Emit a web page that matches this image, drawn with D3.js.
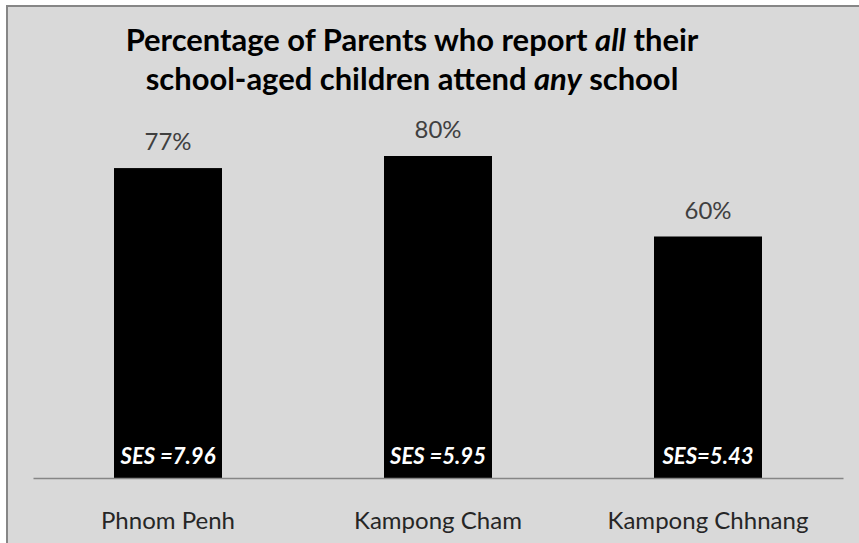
<!DOCTYPE html>
<html><head><meta charset="utf-8">
<script src="https://cdn.jsdelivr.net/npm/d3@7"></script>
<style>html,body{margin:0;padding:0;background:#fff;overflow:hidden}</style>
</head><body>
<svg id="c" width="859" height="543"></svg>
<script>
const categories = ["Phnom Penh", "Kampong Cham", "Kampong Chhnang"];
const values = [77, 80, 60];
const valueLabels = ["77%", "80%", "60%"];
const sesLabels = ["SES =7.96", "SES =5.95", "SES=5.43"];
const titleLines = [
  [["Percentage of Parents who report ", "normal"], ["all", "italic"], [" their", "normal"]],
  [["school-aged children attend ", "normal"], ["any", "italic"], [" school", "normal"]]
];

const FONT = "Lato, 'Open Sans', sans-serif";
const svg = d3.select("#c");
svg.append("rect").attr("x", 7).attr("y", 6).attr("width", 880).attr("height", 580)
  .attr("fill", "#d9d9d9").attr("stroke", "#868686").attr("stroke-width", 2);

const x0 = 33, x1 = 843, yBase = 478;
const x = d3.scaleBand().domain(categories).range([x0, x1]).paddingInner(0.6).paddingOuter(0.3);
const y = d3.scaleLinear().domain([0, 100]).range([yBase, yBase - 402.5]);

function fit(sel, target) {
  const w = sel.node().getComputedTextLength();
  const fs = parseFloat(sel.attr("font-size"));
  return fs * target / w;
}

// bars
svg.selectAll("rect.bar").data(values).join("rect").attr("class", "bar")
  .attr("x", (d, i) => x(categories[i])).attr("width", x.bandwidth())
  .attr("y", d => y(d)).attr("height", d => yBase - y(d)).attr("fill", "#000");

// axis line
const axis = d3.axisBottom(x).tickSize(0).tickFormat("");
const ag = svg.append("g").attr("transform", `translate(0,${yBase})`).call(axis);
ag.select(".domain").attr("stroke", "#868686").attr("stroke-width", 1.3);

// value labels
const vl = svg.selectAll("text.val").data(values).join("text").attr("class", "val")
  .attr("x", (d, i) => x(categories[i]) + x.bandwidth() / 2)
  .attr("y", d => y(d) - 18).attr("text-anchor", "middle")
  .attr("font-family", FONT).attr("font-size", 20).attr("fill", "#404040")
  .text((d, i) => valueLabels[i]);
const vfs = fit(d3.select(vl.nodes()[1]), 47);
vl.attr("font-size", vfs);

// SES labels
const sl = svg.selectAll("text.ses").data(sesLabels).join("text").attr("class", "ses")
  .attr("x", (d, i) => x(categories[i]) + x.bandwidth() / 2)
  .attr("y", yBase - 14).attr("text-anchor", "middle")
  .attr("font-family", FONT).attr("font-size", 20).attr("font-weight", "bold").attr("font-style", "italic")
  .attr("fill", "#fff").text(d => d);
const sfs = fit(d3.select(sl.nodes()[1]), 96);
sl.attr("font-size", sfs);

// category labels
const cl = svg.selectAll("text.cat").data(categories).join("text").attr("class", "cat")
  .attr("x", d => x(d) + x.bandwidth() / 2).attr("y", 529).attr("text-anchor", "middle")
  .attr("font-family", FONT).attr("font-size", 20).attr("fill", "#262626").text(d => d);
const cfs = fit(d3.select(cl.nodes()[2]), 201);
cl.attr("font-size", cfs);

// title
const tt = svg.append("g");
const tl = tt.selectAll("text").data(titleLines).join("text")
  .attr("x", 412).attr("y", (d, i) => 51 + i * 39).attr("text-anchor", "middle")
  .attr("font-family", FONT).attr("font-size", 26).attr("font-weight", "bold").attr("fill", "#000");
tl.selectAll("tspan").data(d => d).join("tspan").attr("font-style", d => d[1]).text(d => d[0]);
const tfs = fit(d3.select(tl.nodes()[0]), 573);
tl.attr("font-size", tfs);
</script>
</body></html>
